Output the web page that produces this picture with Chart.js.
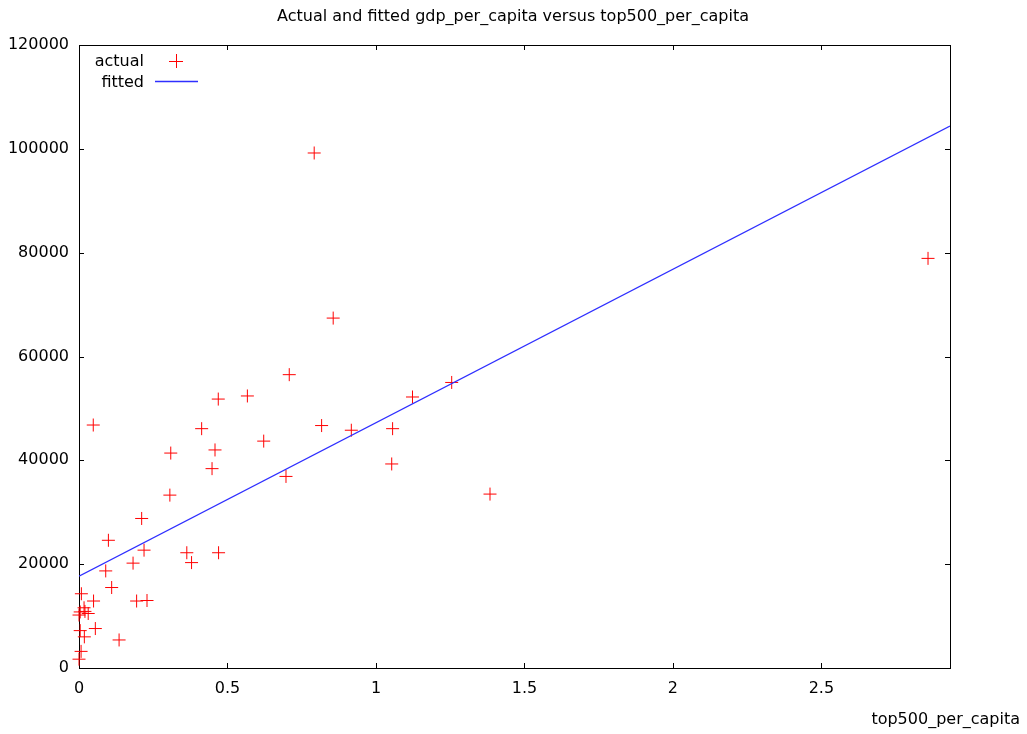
<!DOCTYPE html>
<html>
<head>
<meta charset="utf-8">
<script src="https://cdn.jsdelivr.net/npm/chart.js@4/dist/chart.umd.min.js"></script>
<style>
  html, body { margin: 0; padding: 0; background: #fff; }
  #wrap { width: 1027px; height: 734px; }
</style>
</head>
<body>
<div id="wrap"><canvas id="chart" width="1027" height="734"></canvas></div>
<script>
const top500PerCapita = [
  2.859, 0.792, 0.856, 0.708, 1.255, 1.123, 0.817, 0.917, 1.056, 1.053,
  0.697, 1.384, 0.469, 0.567, 0.413, 0.458, 0.309, 0.448, 0.622, 0.048,
  0.306, 0.211, 0.099, 0.219, 0.363, 0.470, 0.379, 0.182, 0.090, 0.110,
  0.008, 0.049, 0.194, 0.229, 0.017, 0.004, 0.020, 0.031, 0.000, 0.055,
  0.004, 0.018, 0.135, 0.007, 0.000
];
const gdpPerCapita = [
  78900, 99200, 67400, 56500, 55000, 52200, 46700, 45800, 46100, 39300,
  36900, 33500, 51800, 52400, 46100, 42000, 41400, 38400, 43700, 46800,
  33300, 28800, 24600, 22700, 22200, 22200, 20300, 20200, 18700, 15500,
  14300, 12900, 12900, 13000, 11600, 10800, 10900, 10500, 10200, 7600,
  7200, 6000, 5400, 3200, 1700
];

// fitted line end points
const fittedX = [0, 2.933];
const fittedY = [17700, 104400];

// axes
const xTicks = [0, 0.5, 1, 1.5, 2, 2.5];
const yTicks = [0, 20000, 40000, 60000, 80000, 100000, 120000];

const FONT = '"DejaVu Sans", sans-serif';
const RED = '#ff0000';
const BLUE = '#2f2fff';

const actualPoints = top500PerCapita.map((x, i) => ({ x: x, y: gdpPerCapita[i] }));
const fittedPoints = fittedX.map((x, i) => ({ x: x, y: fittedY[i] }));

// gnuplot style frame, inward ticks, legend and labels
const gnuplotLook = {
  id: 'gnuplotLook',
  beforeDatasetsDraw(chart) {
    const ctx = chart.ctx;
    const a = chart.chartArea;
    const xs = chart.scales.x, ys = chart.scales.y;
    const tl = 5;
    ctx.save();
    ctx.strokeStyle = '#000';
    ctx.lineWidth = 1;
    ctx.strokeRect(Math.round(a.left) + 0.5, Math.round(a.top) + 0.5,
                   Math.round(a.right - a.left), Math.round(a.bottom - a.top));
    ctx.beginPath();
    xTicks.forEach(v => {
      const px = Math.round(xs.getPixelForValue(v)) + 0.5;
      ctx.moveTo(px, a.bottom); ctx.lineTo(px, a.bottom - tl);
      ctx.moveTo(px, a.top); ctx.lineTo(px, a.top + tl);
    });
    yTicks.forEach(v => {
      const py = Math.round(ys.getPixelForValue(v)) + 0.5;
      ctx.moveTo(a.left, py); ctx.lineTo(a.left + tl, py);
      ctx.moveTo(a.right, py); ctx.lineTo(a.right - tl, py);
    });
    ctx.stroke();
    ctx.restore();
  },
  afterDraw(chart) {
    const ctx = chart.ctx;
    ctx.save();
    ctx.fillStyle = '#000';
    ctx.font = '16px ' + FONT;
    ctx.textBaseline = 'middle';

    // title
    ctx.textAlign = 'center';
    ctx.fillText('Actual and fitted gdp_per_capita versus top500_per_capita', 513, 17);

    // x axis label, bottom right
    ctx.textAlign = 'right';
    ctx.fillText('top500_per_capita', 1020, 720);

    // legend
    ctx.fillText('actual', 144, 62);
    ctx.fillText('fitted', 144, 83);
    ctx.strokeStyle = RED;
    ctx.lineWidth = 1;
    ctx.beginPath();
    ctx.moveTo(169, 61.5); ctx.lineTo(183, 61.5);
    ctx.moveTo(176.5, 54); ctx.lineTo(176.5, 68);
    ctx.stroke();
    ctx.strokeStyle = BLUE;
    ctx.lineWidth = 1.3;
    ctx.beginPath();
    ctx.moveTo(155, 81.5); ctx.lineTo(198, 81.5);
    ctx.stroke();
    ctx.restore();
  }
};

new Chart(document.getElementById('chart'), {
  type: 'scatter',
  data: {
    datasets: [
      {
        label: 'actual',
        data: actualPoints,
        pointStyle: 'cross',
        pointRadius: 6.5,
        pointHoverRadius: 6.5,
        borderColor: RED,
        backgroundColor: RED,
        pointBorderColor: RED,
        pointHoverBorderColor: RED,
        borderWidth: 1,
        clip: false,
        order: 2
      },
      {
        label: 'fitted',
        type: 'line',
        data: fittedPoints,
        borderColor: BLUE,
        borderWidth: 1.3,
        pointRadius: 0,
        fill: false,
        tension: 0,
        order: 1
      }
    ]
  },
  options: {
    responsive: false,
    animation: false,
    events: [],
    devicePixelRatio: 1,
    layout: { padding: { top: 45, right: 77, left: 0, bottom: 0 } },
    plugins: {
      legend: { display: false },
      title: { display: false },
      tooltip: { enabled: false }
    },
    scales: {
      x: {
        type: 'linear',
        min: 0,
        max: 2.933,
        grid: { display: false, drawTicks: false },
        border: { display: false },
        afterFit(s) { s.height = 66; },
        ticks: {
          stepSize: 0.5,
          includeBounds: false,
          padding: 11,
          color: '#000',
          font: { family: FONT, size: 16 },
          maxRotation: 0,
          callback: v => String(v)
        }
      },
      y: {
        min: 0,
        max: 120000,
        grid: { display: false, drawTicks: false },
        border: { display: false },
        afterFit(s) { s.width = 79; },
        ticks: {
          stepSize: 20000,
          padding: 10,
          color: '#000',
          font: { family: FONT, size: 16 },
          callback: v => String(v)
        }
      }
    }
  },
  plugins: [gnuplotLook]
});
</script>
</body>
</html>
